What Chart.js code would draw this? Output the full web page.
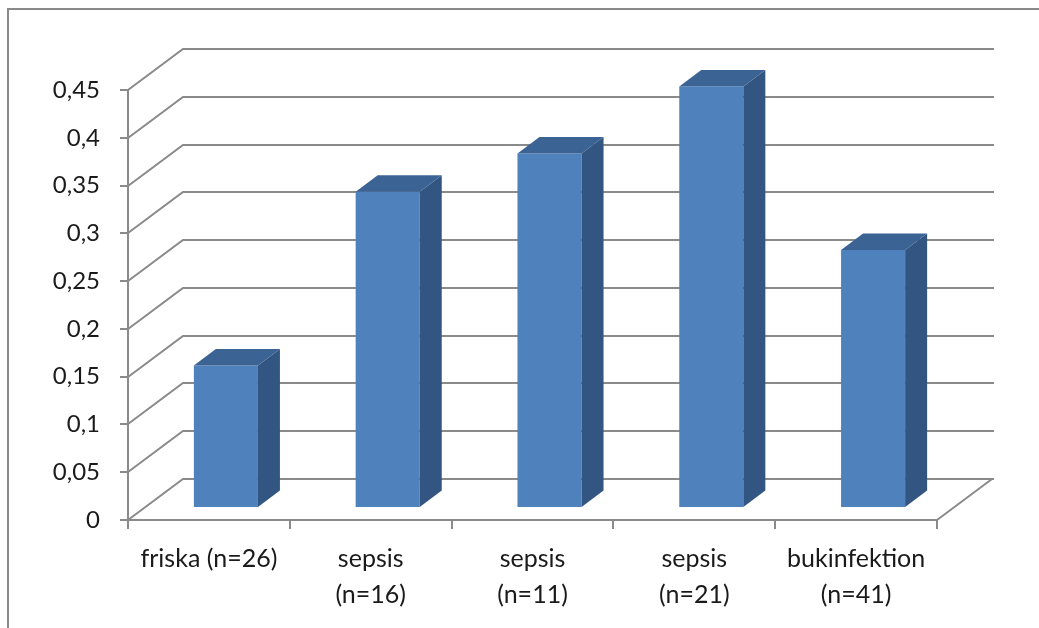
<!DOCTYPE html>
<html>
<head>
<meta charset="utf-8">
<script src="https://cdn.jsdelivr.net/npm/chart.js@4.4.1/dist/chart.umd.min.js"></script>
<style>
  html, body { margin: 0; padding: 0; background: #ffffff; }
  #wrap { width: 1039px; height: 628px; position: relative; }
</style>
</head>
<body>
<div id="wrap"><canvas id="c" width="1039" height="628"></canvas></div>
<script>
const categories = [
  'friska (n=26)',
  ['sepsis', '(n=16)'],
  ['sepsis', '(n=11)'],
  ['sepsis', '(n=21)'],
  ['bukinfektion', '(n=41)']
];
const values = [0.149, 0.331, 0.371, 0.441, 0.270];
const yTickLabels = ['0', '0,05', '0,1', '0,15', '0,2', '0,25', '0,3', '0,35', '0,4', '0,45'];

const GRID = '#8a8a8a';
const TEXT = '#1a1a1a';
const FONT = 'Lato';
const WALL_DX = 55, WALL_DY = -41;      // back wall offset
const BAR_DX = 17, BAR_DY = -12;        // bar front face offset
const DEP_DX = 22, DEP_DY = -16.5;      // bar depth

const threeD = {
  id: 'threeD',
  beforeDraw(chart) {
    const ctx = chart.ctx;
    ctx.save();
    ctx.strokeStyle = '#8a8a8a';
    ctx.lineWidth = 2;
    ctx.strokeRect(8, 9, 1200, 800);
    ctx.restore();
  },
  beforeDatasetsDraw(chart) {
    const ctx = chart.ctx;
    const y = chart.scales.y;
    const a = chart.chartArea;
    ctx.save();
    ctx.strokeStyle = GRID;
    ctx.lineWidth = 2;
    y.ticks.forEach(t => {
      const py = Math.round(y.getPixelForValue(t.value));
      ctx.beginPath();
      ctx.moveTo(a.left, py);
      ctx.lineTo(a.left + WALL_DX, py + WALL_DY);
      ctx.lineTo(a.right + WALL_DX + 2, py + WALL_DY);
      ctx.stroke();
    });
    const p0 = Math.round(y.getPixelForValue(0));
    ctx.beginPath();
    ctx.moveTo(a.right, p0);
    ctx.lineTo(a.right + WALL_DX, p0 + WALL_DY);
    ctx.stroke();
    ctx.restore();
    ctx.save();
    ctx.translate(BAR_DX, BAR_DY);
  },
  afterDatasetsDraw(chart) {
    const ctx = chart.ctx;
    const meta = chart.getDatasetMeta(0);
    meta.data.forEach(bar => {
      const p = bar.getProps(['x', 'y', 'base', 'width'], true);
      const l = p.x - p.width / 2, r = p.x + p.width / 2;
      ctx.fillStyle = '#325582';
      ctx.beginPath();
      ctx.moveTo(r, p.y);
      ctx.lineTo(r + DEP_DX, p.y + DEP_DY);
      ctx.lineTo(r + DEP_DX, p.base + DEP_DY);
      ctx.lineTo(r, p.base);
      ctx.closePath();
      ctx.fill();
      ctx.fillStyle = '#3b6393';
      ctx.beginPath();
      ctx.moveTo(l, p.y);
      ctx.lineTo(l + DEP_DX, p.y + DEP_DY);
      ctx.lineTo(r + DEP_DX, p.y + DEP_DY);
      ctx.lineTo(r, p.y);
      ctx.closePath();
      ctx.fill();
    });
    ctx.restore();
  }
};

new Chart(document.getElementById('c'), {
  type: 'bar',
  data: {
    labels: categories,
    datasets: [{
      data: values,
      backgroundColor: '#4f81bd',
      borderWidth: 0,
      barPercentage: 0.396,
      categoryPercentage: 1.0,
      clip: false
    }]
  },
  options: {
    responsive: false,
    animation: false,
    events: [],
    layout: { padding: { left: 10, top: 90, right: 102, bottom: 0 } },
    plugins: { legend: { display: false }, tooltip: { enabled: false } },
    scales: {
      x: {
        offset: true,
        afterFit(s) { s.height = 108; },
        grid: { display: true, drawOnChartArea: false, drawTicks: true, tickLength: 9, offset: true, color: GRID, lineWidth: 2 },
        border: { display: true, color: GRID, width: 2 },
        ticks: { color: TEXT, padding: 12, font: { family: FONT, size: 25, lineHeight: 1.44 }, maxRotation: 0, autoSkip: false }
      },
      y: {
        min: 0, max: 0.45,
        afterFit(s) { s.width = 118; },
        grid: { display: true, drawOnChartArea: false, drawTicks: true, tickLength: 8, color: GRID, lineWidth: 2 },
        border: { display: true, color: GRID, width: 2 },
        ticks: { stepSize: 0.05, color: TEXT, padding: 20, font: { family: FONT, size: 24 },
          callback: (v, i) => yTickLabels[i] }
      }
    }
  },
  plugins: [threeD]
});
</script>
</body>
</html>
